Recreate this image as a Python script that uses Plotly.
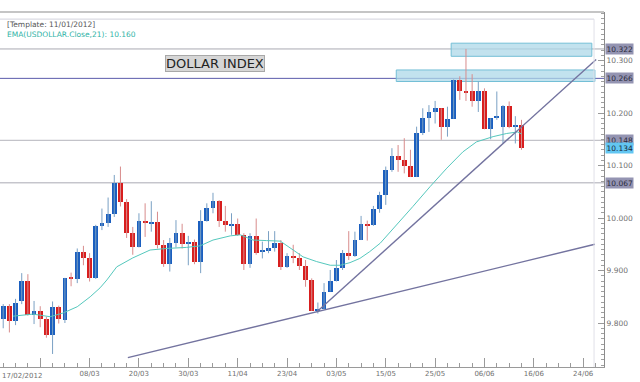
import plotly.graph_objects as go

# ---- data ----
opens  = [9.808, 9.833, 9.804, 9.841, 9.880, 9.815, 9.823, 9.808, 9.777, 9.830,
          9.806, 9.886, 9.884, 9.936, 9.924, 9.885, 9.985, 9.990, 10.007, 10.067,
          10.031, 9.972, 9.944, 9.994, 9.990, 9.993, 9.949, 9.912, 9.952, 9.972,
          9.952, 9.955, 9.917, 9.994, 10.020, 10.032, 9.994, 9.986, 9.988, 9.968,
          9.912, 9.966, 9.935, 9.938, 9.943, 9.953, 9.907, 9.928, 9.924, 9.909,
          9.882, 9.822, 9.827, 9.860, 9.880, 9.904, 9.934, 9.928, 9.959, 9.989,
          9.987, 10.017, 10.044, 10.091, 10.118, 10.110, 10.100, 10.078, 10.161, 10.190,
          10.201, 10.209, 10.174, 10.189, 10.263, 10.242, 10.241, 10.222, 10.241, 10.169,
          10.190, 10.173, 10.213, 10.174, 10.177]
highs  = [9.836, 9.836, 9.846, 9.895, 9.893, 9.842, 9.832, 9.812, 9.841, 9.833,
          9.886, 9.896, 9.942, 9.947, 9.933, 9.987, 10.018, 10.039, 10.082, 10.098,
          10.036, 9.983, 10.009, 10.028, 10.032, 10.012, 9.958, 9.962, 9.996, 9.989,
          9.966, 9.959, 10.015, 10.028, 10.048, 10.034, 10.023, 10.009, 9.999, 9.971,
          9.971, 9.999, 9.955, 9.975, 9.975, 9.958, 9.933, 9.949, 9.933, 9.920,
          9.885, 9.839, 9.876, 9.901, 9.920, 9.939, 9.975, 9.974, 10.004, 9.995,
          10.023, 10.050, 10.098, 10.133, 10.139, 10.152, 10.130, 10.174, 10.209, 10.215,
          10.223, 10.209, 10.212, 10.264, 10.270, 10.322, 10.274, 10.260, 10.247, 10.190,
          10.241, 10.215, 10.222, 10.194, 10.187]
lows   = [9.790, 9.782, 9.796, 9.836, 9.814, 9.798, 9.792, 9.772, 9.741, 9.799,
          9.800, 9.870, 9.876, 9.910, 9.879, 9.884, 9.977, 9.983, 10.002, 10.022,
          9.962, 9.930, 9.944, 9.964, 9.974, 9.942, 9.907, 9.898, 9.944, 9.942,
          9.910, 9.912, 9.895, 9.993, 10.009, 9.983, 9.974, 9.968, 9.966, 9.901,
          9.905, 9.930, 9.923, 9.933, 9.936, 9.901, 9.905, 9.914, 9.901, 9.869,
          9.823, 9.818, 9.826, 9.860, 9.879, 9.901, 9.920, 9.926, 9.958, 9.957,
          9.985, 10.010, 10.025, 10.088, 10.088, 10.085, 10.078, 10.078, 10.158, 10.164,
          10.180, 10.149, 10.155, 10.189, 10.225, 10.223, 10.212, 10.202, 10.169, 10.150,
          10.187, 10.142, 10.171, 10.142, 10.130]
closes = [9.833, 9.804, 9.839, 9.880, 9.815, 9.823, 9.807, 9.777, 9.830, 9.808,
          9.886, 9.884, 9.936, 9.924, 9.885, 9.985, 9.990, 10.007, 10.067, 10.031,
          9.972, 9.945, 9.994, 9.990, 9.993, 9.949, 9.912, 9.952, 9.972, 9.950,
          9.955, 9.917, 9.994, 10.020, 10.032, 9.994, 9.987, 9.988, 9.968, 9.912,
          9.966, 9.934, 9.939, 9.943, 9.953, 9.907, 9.928, 9.924, 9.909, 9.882,
          9.823, 9.827, 9.860, 9.880, 9.904, 9.934, 9.928, 9.959, 9.988, 9.985,
          10.017, 10.044, 10.091, 10.118, 10.110, 10.100, 10.078, 10.161, 10.190, 10.201,
          10.209, 10.174, 10.189, 10.263, 10.242, 10.239, 10.222, 10.241, 10.169, 10.190,
          10.194, 10.213, 10.173, 10.177, 10.134]

# EMA(21) (bar position, value)
ema_x = [1.6, 4.8, 7.6, 9.7, 12.0, 14.1, 15.7, 16.8, 18.4, 21.0, 23.8, 26.5, 29.7,
         31.9, 34.0, 36.8, 38.4, 40.5, 42.7, 44.9, 47.0, 48.6, 50.8, 53.0, 54.6,
         56.2, 57.8, 59.4, 61.1, 63.8, 66.4, 69.2, 71.9, 74.5, 76.7, 79.4, 81.6, 83.4, 84.0]
ema_y = [9.813, 9.817, 9.812, 9.819, 9.831, 9.850, 9.867, 9.882, 9.907, 9.924, 9.939,
         9.942, 9.944, 9.947, 9.958, 9.966, 9.968, 9.958, 9.957, 9.956, 9.939, 9.926,
         9.917, 9.910, 9.910, 9.915, 9.923, 9.936, 9.952, 9.987, 10.022, 10.060, 10.095,
         10.126, 10.145, 10.155, 10.161, 10.164, 10.160]

# x-axis tick labels (bar positions)
tick_pos  = [6, 14, 22, 30, 38, 46, 54, 62, 70, 78, 86, 94]
tick_text = ["", "08/03", "20/03", "30/03", "11/04", "23/04", "03/05",
             "15/05", "25/05", "06/06", "16/06", "24/06"]
first_date = "17/02/2012"

# horizontal levels
level_vals  = [10.322, 10.266, 10.148, 10.067]
level_color = ["#a9a9b3", "#5b5bab", "#b4b4bc", "#a9a9b3"]
last_close = 10.134
ema_last = 10.160

# resistance zones: (x0, x1, y0, y1)
zones = [(72.6, 95.4, 10.308, 10.333), (63.7, 95.9, 10.260, 10.282)]

# trend lines (bar position, value)
trend1_x = [50.8, 96.1]
trend1_y = [9.821, 10.302]
trend2_x = [20.2, 95.9]
trend2_y = [9.734, 9.950]

y_range = [9.7162, 10.3924]
x_range = [-0.52, 97.37]

BLUE = "#1b5fbf"
RED = "#d81e1e"
BLUE_WICK = "#7aa0c4"
RED_WICK = "#d88c8c"

fig = go.Figure()

# wicks
for up, col in ((True, BLUE_WICK), (False, RED_WICK)):
    wx, wy = [], []
    for i, (o, h, l, c) in enumerate(zip(opens, highs, lows, closes)):
        if (c >= o) == up:
            wx += [i, i, None]
            wy += [l, h, None]
    fig.add_trace(go.Scatter(x=wx, y=wy, mode="lines",
                             line=dict(color=col, width=1), hoverinfo="skip",
                             showlegend=False))

# bodies
for up, col in ((True, BLUE), (False, RED)):
    bx, bb, bh = [], [], []
    for i, (o, c) in enumerate(zip(opens, closes)):
        if (c >= o) == up:
            bx.append(i)
            bb.append(min(o, c))
            bh.append(max(abs(c - o), 0.0022))
    fig.add_trace(go.Bar(x=bx, y=bh, base=bb, width=0.78,
                         marker=dict(color=col, line=dict(width=0)),
                         showlegend=False))

# EMA
fig.add_trace(go.Scatter(x=ema_x, y=ema_y, mode="lines",
                         line=dict(color="#55c8bd", width=1), showlegend=False))

# trend lines
for tx, ty in ((trend1_x, trend1_y), (trend2_x, trend2_y)):
    fig.add_trace(go.Scatter(x=tx, y=ty, mode="lines",
                             line=dict(color="#73739f", width=1.4), showlegend=False))

shapes = []
# horizontal levels
for v, c in zip(level_vals, level_color):
    shapes.append(dict(type="line", xref="paper", x0=0, x1=1, yref="y", y0=v, y1=v,
                       line=dict(color=c, width=1), layer="below"))
# zones
for x0, x1, y0, y1 in zones:
    shapes.append(dict(type="rect", xref="x", yref="y", x0=x0, x1=x1, y0=y0, y1=y1,
                       fillcolor="rgba(173,216,232,0.75)",
                       line=dict(color="#74bfd6", width=1), layer="below"))
# frame lines
shapes.append(dict(type="line", xref="paper", yref="paper", x0=0, x1=1, y0=1, y1=1,
                   line=dict(color="#8c8c8c", width=1.2)))
shapes.append(dict(type="line", xref="paper", yref="paper", x0=0, x1=0.9835,
                   y0=0.98, y1=0.98, line=dict(color="#d2d2dc", width=1)))
shapes.append(dict(type="line", xref="paper", yref="paper", x0=0.9835, x1=0.9835,
                   y0=0.98, y1=0, line=dict(color="#e0e0e8", width=1)))

annotations = [
    dict(text="[Template: 11/01/2012]", xref="paper", yref="paper", x=0.008, y=0.982,
         xanchor="left", yanchor="top", showarrow=False,
         font=dict(family="DejaVu Sans", size=7.5, color="#555555")),
    dict(text="EMA(USDOLLAR.Close,21): %.3f" % ema_last, xref="paper", yref="paper",
         x=0.008, y=0.955, xanchor="left", yanchor="top", showarrow=False,
         font=dict(family="DejaVu Sans", size=7.5, color="#2fb3a6")),
    dict(text="DOLLAR INDEX", xref="paper", yref="paper", x=0.356, y=0.854,
         xanchor="center", yanchor="middle", showarrow=False,
         font=dict(family="DejaVu Sans", size=13, color="#222222"),
         bgcolor="#d6d6d6", bordercolor="#a8a8a8", borderwidth=1, borderpad=0),
    dict(text=first_date, xref="paper", yref="paper", x=0.0, y=0, yshift=-3,
         xanchor="left", yanchor="top", showarrow=False,
         font=dict(family="DejaVu Sans", size=7, color="#707070")),
]
for v in level_vals:
    annotations.append(dict(text="%.3f" % v, xref="paper", yref="y", x=1, y=v,
                            xanchor="left", yanchor="middle", xshift=1, showarrow=False,
                            font=dict(family="DejaVu Sans", size=7.5, color="#2a2a3a"),
                            bgcolor="#9494b2", borderpad=0.5))
annotations.append(dict(text="%.3f" % last_close, xref="paper", yref="y", x=1,
                        y=last_close, xanchor="left", yanchor="middle", xshift=1,
                        showarrow=False,
                        font=dict(family="DejaVu Sans", size=7.5, color="#1a2a3a"),
                        bgcolor="#62c6f2", borderpad=0.5))

fig.update_layout(
    width=640, height=382,
    margin=dict(l=0, r=36, t=12, b=15),
    paper_bgcolor="white", plot_bgcolor="white",
    barmode="overlay", bargap=0,
    shapes=shapes, annotations=annotations,
    showlegend=False,
    xaxis=dict(range=x_range, tickmode="array", tickvals=tick_pos, ticktext=tick_text,
               ticks="inside", ticklen=9, tickcolor="#9a9a9a", showgrid=False,
               zeroline=False, showline=True, linecolor="#9a9a9a", linewidth=1,
               tickfont=dict(family="DejaVu Sans", size=7, color="#707070"),
               minor=dict(tickmode="linear", tick0=0, dtick=2, ticks="inside",
                          ticklen=4, tickcolor="#9a9a9a"),
               fixedrange=True),
    yaxis=dict(range=y_range, side="right", tickmode="linear", tick0=9.7, dtick=0.1,
               tickformat=".3f", ticks="inside", ticklen=6, tickcolor="#9a9a9a",
               showgrid=False, zeroline=False, showline=True, linecolor="#8c8c8c",
               linewidth=1.2,
               tickfont=dict(family="DejaVu Sans", size=7.5, color="#707070"),
               minor=dict(tickmode="linear", tick0=9.7, dtick=0.01, ticks="inside",
                          ticklen=3, tickcolor="#a0a0a0"),
               fixedrange=True),
)

fig.write_html("out.html")
